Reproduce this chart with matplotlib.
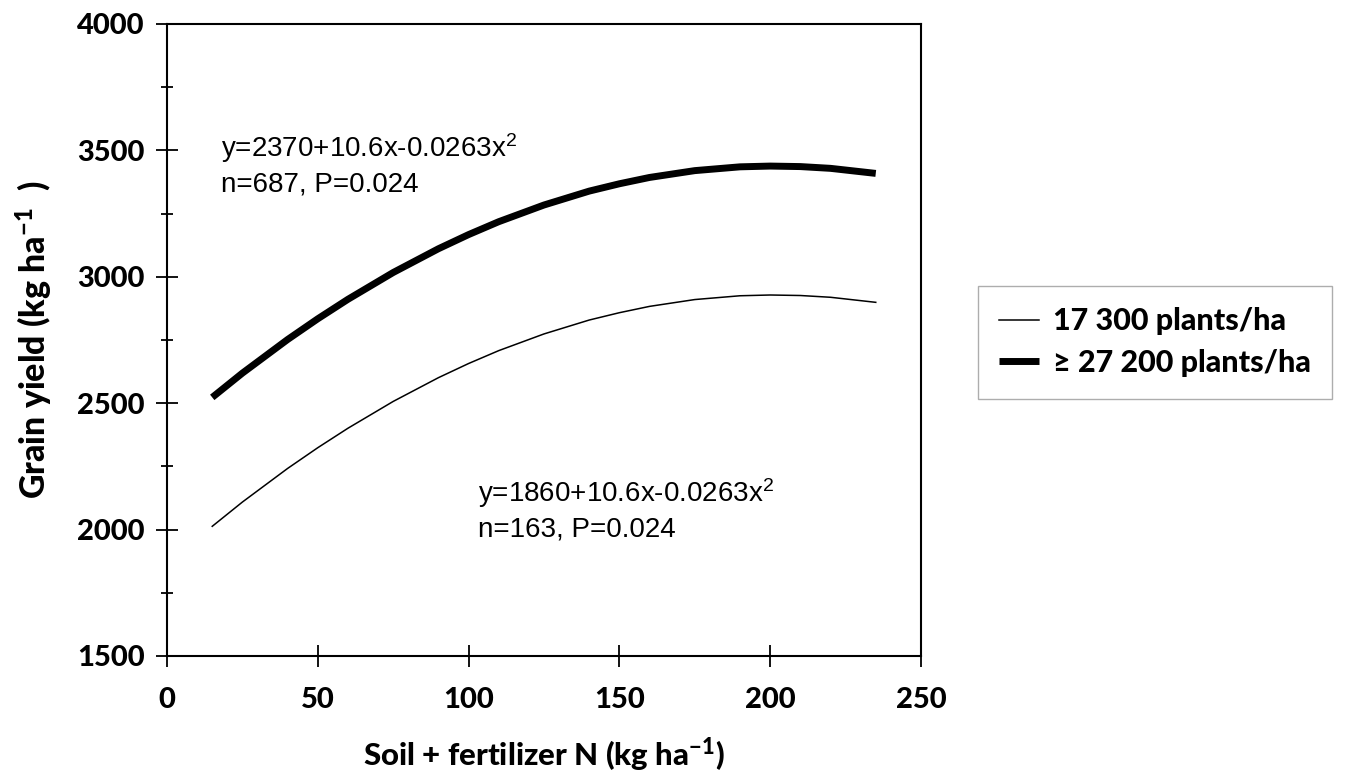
import matplotlib
matplotlib.use("Agg")
import matplotlib.pyplot as plt
from matplotlib.ticker import MultipleLocator

# Values (N in kg/ha, grain yield in kg/ha)
n_levels = [15, 25, 40, 50, 60, 75, 90, 100, 110, 125, 140, 150, 160, 175, 190, 200, 210, 220, 235]
yield_low = [2013, 2109, 2242, 2324, 2401, 2507, 2601, 2657, 2708, 2774, 2829, 2858, 2883, 2910, 2925, 2928, 2926, 2919, 2899]
yield_high = [2523, 2619, 2752, 2834, 2911, 3017, 3111, 3167, 3218, 3284, 3339, 3368, 3393, 3420, 3435, 3438, 3436, 3429, 3409]
series_labels = ["17 300 plants/ha", "\u2265 27 200 plants/ha"]
eq_high = ["y=2370+10.6x-0.0263x$\\mathregular{^2}$", "n=687, P=0.024"]
eq_low = ["y=1860+10.6x-0.0263x$\\mathregular{^2}$", "n=163, P=0.024"]
x_ticks = [0, 50, 100, 150, 200, 250]
y_ticks = [1500, 2000, 2500, 3000, 3500, 4000]

BOLD = "Lato"
W = "black"

fig = plt.figure(figsize=(13.45, 7.73), dpi=100)
ax = fig.add_axes([167 / 1345, 1 - 656 / 773, (921 - 167) / 1345, (656 - 24) / 773])

l1, = ax.plot(n_levels, yield_low, color="black", lw=1.1)
l2, = ax.plot(n_levels, yield_high, color="black", lw=5.0, solid_capstyle="butt")

ax.set_xlim(0, 250)
ax.set_ylim(1500, 4000)
ax.set_xticks(x_ticks)
ax.set_yticks(y_ticks)
ax.yaxis.set_minor_locator(MultipleLocator(250))
for s in ax.spines.values():
    s.set_linewidth(1.5)
ax.tick_params(which="both", direction="inout", width=1.3, color="black")
ax.tick_params(axis="x", which="major", length=16, pad=14)
ax.tick_params(axis="y", which="major", length=16, pad=8)
ax.tick_params(axis="y", which="minor", length=8)
for lab in ax.get_xticklabels() + ax.get_yticklabels():
    lab.set_fontfamily(BOLD)
    lab.set_fontweight(W)
    lab.set_fontsize(21)

ax.set_xlabel("Soil + fertilizer N (kg ha$\\mathregular{^{-1}}$)", fontfamily=BOLD,
              fontweight=W, fontsize=22.5, labelpad=16)
ax.set_ylabel("Grain yield (kg ha$\\mathregular{^{-1}}$  )", fontfamily=BOLD,
              fontweight=W, fontsize=24.5, labelpad=10)
ax.yaxis.set_label_coords(-0.148, 0.5)

ax.text(18, 3575, eq_high[0] + "\n" + eq_high[1], fontfamily="Liberation Sans",
        fontsize=20, linespacing=1.3, va="top", ha="left")
ax.text(103, 2210, eq_low[0] + "\n" + eq_low[1], fontfamily="Liberation Sans",
        fontsize=20, linespacing=1.3, va="top", ha="left")

leg = fig.legend([l1, l2], series_labels, loc="upper left",
                 bbox_to_anchor=(978 / 1345, 1 - 286 / 773),
                 prop={"family": BOLD, "weight": W, "size": 22},
                 frameon=True, fancybox=False, handlelength=1.3, handletextpad=0.45,
                 borderpad=0.7, labelspacing=0.45, borderaxespad=0)
leg.get_frame().set_edgecolor("#999999")
leg.get_frame().set_linewidth(1.0)

fig.savefig("out.png", dpi=100)
